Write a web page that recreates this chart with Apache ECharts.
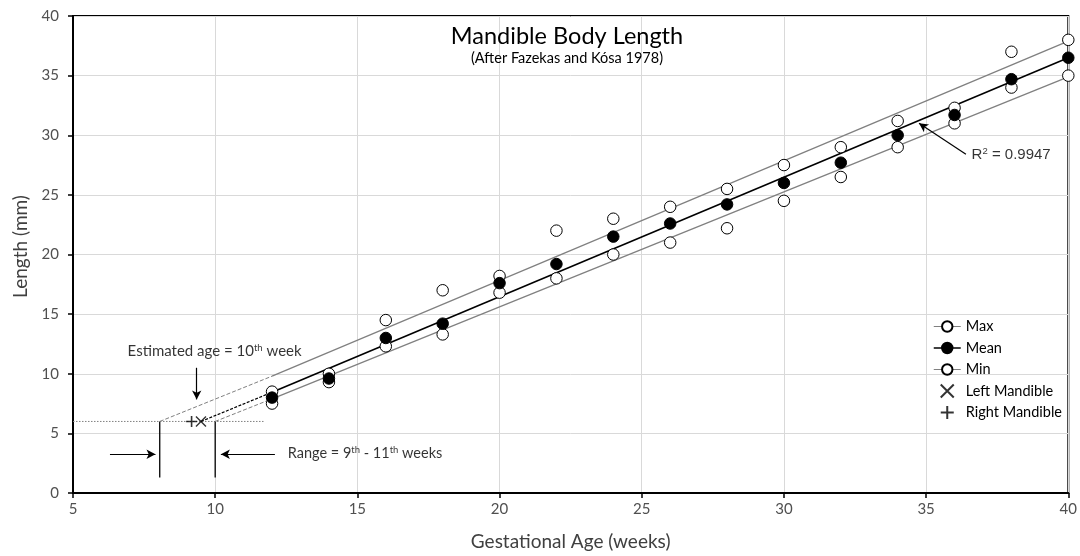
<!DOCTYPE html>
<html>
<head>
<meta charset="utf-8">
<script src="https://cdn.jsdelivr.net/npm/echarts@6/dist/echarts.min.js"></script>
<style>
html,body{margin:0;padding:0;background:#fff;}
#chart{width:1080px;height:556px;}
</style>
</head>
<body>
<div id="chart"></div>
<script>
// ---- Data ----
const weeks    = [12, 14, 16, 18, 20, 22, 24, 26, 28, 30, 32, 34, 36, 38, 40];
const maxVals  = [8.5, 10.0, 14.5, 17.0, 18.2, 22.0, 23.0, 24.0, 25.5, 27.5, 29.0, 31.2, 32.3, 37.0, 38.0];
const meanVals = [8.0, 9.6, 13.0, 14.2, 17.6, 19.2, 21.5, 22.6, 24.2, 26.0, 27.7, 30.0, 31.7, 34.7, 36.5];
const minVals  = [7.5, 9.3, 12.3, 13.3, 16.8, 18.0, 20.0, 21.0, 22.2, 24.5, 26.5, 29.0, 31.0, 34.0, 35.0];

// regression lines (start/end) and their dashed back-extensions
const maxTrend  = [[12, 9.8], [40, 37.9]];
const meanTrend = [[12, 8.45], [40, 36.5]];
const minTrend  = [[12, 7.9], [40, 34.9]];
const maxExt    = [[8.05, 6.0], [12, 9.8]];
const meanExt   = [[9.5, 6.0], [12, 8.45]];
const minExt    = [[10.0, 6.0], [12, 7.9]];

// specimen measurements
const leftMandible  = [[9.5, 6.0]];
const rightMandible = [[9.17, 6.0]];

// reference guides
const lengthGuide = [[5, 6.0], [11.75, 6.0]];
const rangeLow  = [[8.05, 6.0], [8.05, 1.3]];
const rangeHigh = [[10.0, 6.0], [10.0, 1.3]];
const arrowsData = [
  [[6.3, 3.25], [7.9, 3.25]],
  [[12.1, 3.25], [10.2, 3.25]],
  [[9.35, 10.5], [9.35, 7.85]],
  [[36.4, 28.4], [34.75, 31.0]]
];

const xTicks = [5, 40, 5];   // min, max, interval
const yTicks = [0, 40, 5];

const titleText = 'Mandible Body Length';
const subText = '(After Fazekas and Kósa 1978)';
const xName = 'Gestational Age (weeks)';
const yName = 'Length (mm)';
const seriesNames = ['Max', 'Mean', 'Min', 'Left Mandible', 'Right Mandible'];
const noteEstimated = 'Estimated age = 10{sup|th} week';
const noteRange = 'Range = 9{sup|th} - 11{sup|th} weeks';
const noteR2 = 'R{sup|2} = 0.9947';
const notePos = { estimated: [9.98, 11.9], range: [12.55, 3.3], r2: [36.6, 28.35] };

// ---- Chart ----
const FONT = 'Lato';
const chart = echarts.init(document.getElementById('chart'), null, {renderer: 'canvas'});
const pts = (vals) => weeks.map((w, i) => [w, vals[i]]);

const openCircle = {color: '#fff', borderColor: '#000', borderWidth: 1};
const supStyle = (fs) => ({fontSize: fs, fontFamily: FONT, color: '#000', verticalAlign: 'top', padding: [0, 0, 7, 0]});

const option = {
  animation: false,
  backgroundColor: '#fff',
  title: {
    text: titleText,
    subtext: subText,
    left: 562,
    textAlign: 'center',
    top: 19,
    itemGap: 3,
    textStyle: {fontFamily: FONT, fontSize: 23.5, fontWeight: 'normal', color: '#000'},
    subtextStyle: {fontFamily: FONT, fontSize: 14.5, color: '#000'}
  },
  grid: {left: 73, right: 11, top: 16, bottom: 62, show: true, borderColor: '#000', borderWidth: 2, backgroundColor: 'transparent'},
  legend: {
    orient: 'vertical',
    left: 928,
    top: 314,
    itemWidth: 27,
    itemHeight: 13,
    itemGap: 6.5,
    textStyle: {fontFamily: FONT, fontSize: 14.5, color: '#000'},
    data: [
      {name: 'Max', lineStyle: {color: '#808080', width: 1, opacity: 1}},
      {name: 'Mean', lineStyle: {color: '#000', width: 1.5, opacity: 1}},
      {name: 'Min', lineStyle: {color: '#808080', width: 1, opacity: 1}},
      {name: 'Left Mandible'},
      {name: 'Right Mandible'}
    ]
  },
  xAxis: {
    type: 'value', min: xTicks[0], max: xTicks[1], interval: xTicks[2],
    name: xName, nameLocation: 'middle', nameGap: 39,
    nameTextStyle: {fontFamily: FONT, fontSize: 19, color: '#404040'},
    axisLine: {lineStyle: {color: '#000', width: 2}},
    axisTick: {show: true, length: 5, lineStyle: {color: '#000', width: 1.5}},
    axisLabel: {fontFamily: FONT, fontSize: 15, color: '#505050', margin: 9},
    splitLine: {show: true, lineStyle: {color: '#d9d9d9', width: 1}}
  },
  yAxis: {
    type: 'value', min: yTicks[0], max: yTicks[1], interval: yTicks[2],
    name: yName, nameLocation: 'middle', nameGap: 41,
    nameTextStyle: {fontFamily: FONT, fontSize: 19, color: '#404040', padding: [0, 0, 0, 16]},
    axisLine: {show: true, lineStyle: {color: '#000', width: 2}},
    axisTick: {show: true, length: 5, lineStyle: {color: '#000', width: 1.5}},
    axisLabel: {fontFamily: FONT, fontSize: 15, color: '#505050', margin: 14},
    splitLine: {show: true, lineStyle: {color: '#d9d9d9', width: 1}}
  },
  series: [
    // guides
    {type: 'line', data: lengthGuide, symbol: 'none', silent: true, z: 1,
      lineStyle: {color: '#808080', width: 1, type: [1.5, 1.5]}},
    {type: 'line', data: rangeLow, symbol: 'none', silent: true, z: 1, lineStyle: {color: '#000', width: 1.3}},
    {type: 'line', data: rangeHigh, symbol: 'none', silent: true, z: 1, lineStyle: {color: '#000', width: 1.3}},
    // extensions
    {type: 'line', data: maxExt, symbol: 'none', silent: true, z: 2, lineStyle: {color: '#808080', width: 1, type: [4, 2]}},
    {type: 'line', data: meanExt, symbol: 'none', silent: true, z: 2, lineStyle: {color: '#000', width: 1.2, type: [3, 1.5]}},
    {type: 'line', data: minExt, symbol: 'none', silent: true, z: 2, lineStyle: {color: '#808080', width: 1, type: [4, 2]}},
    // trend lines
    {type: 'line', data: maxTrend, symbol: 'none', silent: true, z: 2, lineStyle: {color: '#808080', width: 1.3}},
    {type: 'line', data: minTrend, symbol: 'none', silent: true, z: 2, lineStyle: {color: '#808080', width: 1.3}},
    {type: 'line', data: meanTrend, symbol: 'none', silent: true, z: 3, lineStyle: {color: '#000', width: 1.6}},
    // arrows
    {type: 'line', data: [], silent: true, z: 3,
      markLine: {
        silent: true, symbol: ['none', 'arrow'], symbolSize: [7, 9], animation: false,
        label: {show: false},
        lineStyle: {color: '#000', width: 1.2, type: 'solid'},
        emphasis: {disabled: true},
        data: arrowsData.map(a => [{coord: a[0]}, {coord: a[1]}])
      }},
    // data points
    {name: 'Min', type: 'line', data: pts(minVals), symbol: 'circle', symbolSize: 11.5, z: 5,
      lineStyle: {opacity: 0, color: '#808080'}, itemStyle: openCircle},
    {name: 'Max', type: 'line', data: pts(maxVals), symbol: 'circle', symbolSize: 11.5, z: 5,
      lineStyle: {opacity: 0, color: '#808080'}, itemStyle: openCircle},
    {name: 'Mean', type: 'line', data: pts(meanVals), symbol: 'circle', symbolSize: 11.5, z: 6,
      lineStyle: {opacity: 0, color: '#000'}, itemStyle: {color: '#000', borderColor: '#000', borderWidth: 1}},
    {name: 'Left Mandible', type: 'scatter', data: leftMandible, z: 7,
      symbol: 'path://M0,0L10,10M10,0L0,10', symbolSize: 10,
      itemStyle: {color: 'transparent', borderColor: '#000', borderWidth: 1.4}},
    {name: 'Right Mandible', type: 'scatter', data: rightMandible, z: 7,
      symbol: 'path://M5,0L5,10M0,5L10,5', symbolSize: 11,
      itemStyle: {color: 'transparent', borderColor: '#000', borderWidth: 1.6}},
    // annotations
    {type: 'scatter', silent: true, symbolSize: 0, z: 8,
      data: [
        {value: notePos.estimated, label: {formatter: noteEstimated, align: 'center', fontSize: 15,
          rich: {sup: supStyle(9.5)}}},
        {value: notePos.range, label: {formatter: noteRange, align: 'left', fontSize: 14.5,
          rich: {sup: supStyle(9.5)}}},
        {value: notePos.r2, label: {formatter: noteR2, align: 'left', fontFamily: 'Liberation Sans', fontSize: 15,
          rich: {sup: Object.assign(supStyle(9.5), {fontFamily: 'Liberation Sans'})}}}
      ],
      label: {show: true, position: 'inside', verticalAlign: 'middle', fontFamily: FONT, fontSize: 14, color: '#000'}
    }
  ]
};
chart.setOption(option);
</script>
</body>
</html>
